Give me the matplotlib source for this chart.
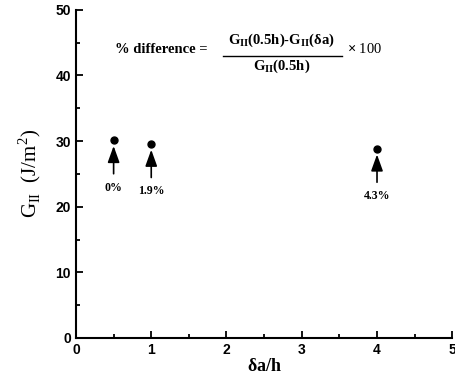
import matplotlib
matplotlib.use('Agg')
import matplotlib.pyplot as plt
from matplotlib.ticker import MultipleLocator

matplotlib.rcParams['mathtext.fontset'] = 'custom'
matplotlib.rcParams['mathtext.rm'] = 'Liberation Serif'
matplotlib.rcParams['mathtext.bf'] = 'Liberation Serif:bold'

# crack extension increments and percentage change of G_II
delta_a = [0.5, 1.0, 4.0]
pct_diff = [0.0, 1.9, 4.3]
pct_labels = ['0%', '1.9%', '4.3%']
G0 = 30.1  # G_II at delta_a = 0.5h

G = [G0*(1.0 - p/100.0) for p in pct_diff]

fig = plt.figure(figsize=(4.55, 3.78), dpi=100)
ax = fig.add_axes([0.167, 0.106, 0.827, 0.868])

ax.plot(delta_a, G, 'o', color='k', markersize=5)

for x, y, lab in zip(delta_a, G, pct_labels):
    # upward arrow just below each point
    ax.annotate('', xy=(x, y), xycoords='data',
                xytext=(0, -24), textcoords='offset points',
                arrowprops=dict(arrowstyle='-|>,head_length=0.5,head_width=0.18',
                                color='k', lw=1.2,
                                mutation_scale=20, shrinkA=0, shrinkB=4))
    ax.annotate(lab, xy=(x, y), xycoords='data',
                xytext=(0, -34), textcoords='offset points',
                ha='center', va='center', fontsize=8.5, fontweight='bold',
                family='Liberation Serif')

ax.set_xlim(0, 5)
ax.set_ylim(0, 50)
ax.xaxis.set_major_locator(MultipleLocator(1))
ax.xaxis.set_minor_locator(MultipleLocator(0.5))
ax.yaxis.set_major_locator(MultipleLocator(10))
ax.yaxis.set_minor_locator(MultipleLocator(5))
ax.tick_params(which='both', direction='in', width=1.3, top=False, right=False)
ax.tick_params(which='major', length=5, labelsize=10)
ax.tick_params(which='minor', length=3)
for t in ax.get_xticklabels() + ax.get_yticklabels():
    t.set_fontweight('bold')
    t.set_family('Liberation Sans')
ax.spines['top'].set_visible(False)
ax.spines['right'].set_visible(False)
ax.spines['left'].set_linewidth(1.5)
ax.spines['bottom'].set_linewidth(1.5)

ax.set_xlabel(r'$\mathbf{\delta a/h}$', fontsize=13, labelpad=0)
ax.set_ylabel(r'G$_{\rm II}$  (J/m$^2$)', fontsize=15, family='Liberation Serif', labelpad=9)

# formula for percent difference
fs = 10.5
ax.text(0.52, 43.9, '% difference =', fontsize=fs, fontweight='bold',
        family='Liberation Serif', ha='left', va='center')
ax.text(2.73, 45.3, r'$\mathbf{G_{II}(0.5h)\text{-}G_{II}(\delta a)}$', fontsize=fs,
        ha='center', va='center')
ax.text(2.73, 41.4, r'$\mathbf{G_{II}(0.5h)}$', fontsize=fs, ha='center', va='center')
ax.plot([1.95, 3.53], [42.9, 42.9], color='k', lw=1.0)
ax.text(3.60, 44.0, r'$\mathbf{\times}$ 100', fontsize=10.5, family='Liberation Serif',
        ha='left', va='center')

plt.savefig('out.png', dpi=100)
